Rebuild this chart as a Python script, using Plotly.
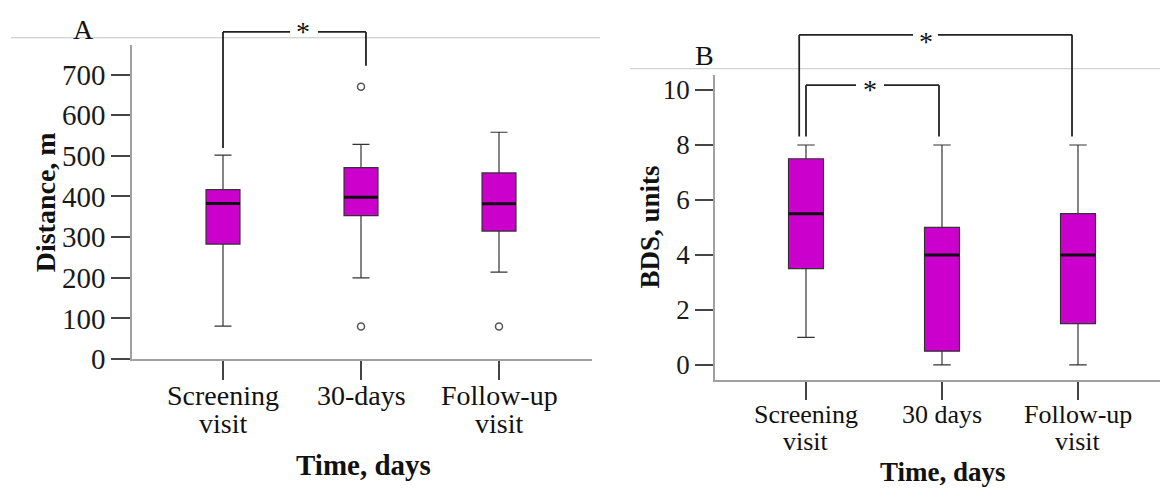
import plotly.graph_objects as go

# ---------------- data ----------------
cats_a = ["Screening<br>visit", "30-days", "Follow-up<br>visit"]
a_q1 = [283, 353, 315]
a_med = [383, 398, 382]
a_q3 = [417, 471, 458]
a_low = [81, 200, 214]
a_high = [502, 528, 558]
a_out_x = [1, 1, 2]
a_out_y = [670, 80, 80]
a_ticks = [0, 100, 200, 300, 400, 500, 600, 700]

cats_b = ["Screening<br>visit", "30 days", "Follow-up<br>visit"]
b_q1 = [3.5, 0.5, 1.5]
b_med = [5.5, 4.0, 4.0]
b_q3 = [7.5, 5.0, 5.5]
b_low = [1.0, 0.0, 0.0]
b_high = [8.0, 8.0, 8.0]
b_ticks = [0, 2, 4, 6, 8, 10]

FONT = "Liberation Serif"
FILL = "#CC00CC"
EDGE = "#333333"
W, H = 1160, 499


def py(y):
    return 1 - y / H


fig = go.Figure()

BW_A = 0.246
BW_B = 0.257

for i in range(3):
    fig.add_trace(go.Box(
        x=[i], q1=[a_q1[i]], median=[a_med[i]], q3=[a_q3[i]],
        lowerfence=[a_low[i]], upperfence=[a_high[i]],
        width=BW_A, whiskerwidth=0.5, fillcolor=FILL,
        line=dict(color=EDGE, width=1.2), boxpoints=False,
        xaxis="x", yaxis="y", showlegend=False, hoverinfo="skip"))
    fig.add_trace(go.Scatter(
        x=[i - BW_A / 2, i + BW_A / 2], y=[a_med[i], a_med[i]], mode="lines",
        line=dict(color="#111111", width=3), xaxis="x", yaxis="y",
        showlegend=False, hoverinfo="skip"))
    fig.add_trace(go.Box(
        x=[i], q1=[b_q1[i]], median=[b_med[i]], q3=[b_q3[i]],
        lowerfence=[b_low[i]], upperfence=[b_high[i]],
        width=BW_B, whiskerwidth=0.5, fillcolor=FILL,
        line=dict(color=EDGE, width=1.2), boxpoints=False,
        xaxis="x2", yaxis="y2", showlegend=False, hoverinfo="skip"))
    fig.add_trace(go.Scatter(
        x=[i - BW_B / 2, i + BW_B / 2], y=[b_med[i], b_med[i]], mode="lines",
        line=dict(color="#111111", width=3), xaxis="x2", yaxis="y2",
        showlegend=False, hoverinfo="skip"))

fig.add_trace(go.Scatter(
    x=a_out_x, y=a_out_y, mode="markers",
    marker=dict(symbol="circle-open", size=7, color="#555555", line=dict(width=1.5)),
    xaxis="x", yaxis="y", showlegend=False, hoverinfo="skip"))

axis_common = dict(showgrid=False, zeroline=False, showline=True,
                   linecolor="#a0a0a0", linewidth=1.5, ticks="outside",
                   tickcolor="#444444", tickwidth=1.5)

fig.update_layout(
    width=W, height=H, margin=dict(l=0, r=0, t=0, b=0),
    paper_bgcolor="white", plot_bgcolor="white",
    xaxis=dict(domain=[132 / W, 592 / W], range=[-0.6594, 2.6739],
               tickvals=[0, 1, 2], showticklabels=False, ticklen=19,
               anchor="y", **axis_common),
    yaxis=dict(domain=[py(371), py(46)], range=[0, 773.8],
               tickvals=a_ticks, ticklen=19, anchor="x",
               tickfont=dict(family=FONT, size=29, color="#1a1a1a"),
               **axis_common),
    xaxis2=dict(domain=[715 / W, 1.0], range=[-0.669, 2.603],
                tickvals=[0, 1, 2], showticklabels=False, ticklen=18,
                anchor="y2", **axis_common),
    yaxis2=dict(domain=[py(393), py(78)], range=[-0.563, 10.528],
                tickvals=b_ticks, ticklen=18, anchor="x2",
                tickfont=dict(family=FONT, size=27, color="#1a1a1a"),
                **axis_common),
)

shapes = []
# thin gray header lines
shapes.append(dict(type="line", xref="paper", yref="paper", x0=11 / W, x1=600 / W,
                   y0=py(39), y1=py(39), line=dict(color="#c4c4c4", width=1.2)))
shapes.append(dict(type="line", xref="paper", yref="paper", x0=630 / W, x1=1.0,
                   y0=py(71), y1=py(71), line=dict(color="#d4d4d4", width=1.2)))


def bracket(xref, xl, xr, gl, gr, ytop, ybl, ybr):
    out = []
    ln = dict(color="#222222", width=1.8)
    out.append(dict(type="line", xref=xref, yref="paper", x0=xl, x1=xl,
                    y0=py(ybl), y1=py(ytop), line=ln))
    out.append(dict(type="line", xref=xref, yref="paper", x0=xl, x1=gl,
                    y0=py(ytop), y1=py(ytop), line=ln))
    out.append(dict(type="line", xref=xref, yref="paper", x0=gr, x1=xr,
                    y0=py(ytop), y1=py(ytop), line=ln))
    out.append(dict(type="line", xref=xref, yref="paper", x0=xr, x1=xr,
                    y0=py(ytop), y1=py(ybr), line=ln))
    return out


shapes += bracket("x", 0.0, 1.036, 0.486, 0.688, 33, 153, 68)
shapes += bracket("x2", -0.05, 1.956, 0.787, 0.97, 36, 141, 141)
shapes += bracket("x2", 0.0, 0.978, 0.368, 0.574, 88, 141, 141)
fig.update_layout(shapes=shapes)

ann = []


def txt(text, x, y, xref, size, bold=False, angle=0):
    ann.append(dict(text=("<b>%s</b>" % text) if bold else text, x=x, y=py(y),
                    xref=xref, yref="paper", showarrow=False, textangle=angle,
                    xanchor="center", yanchor="middle",
                    font=dict(family=FONT, size=size, color="#111111")))


# stars
txt("*", 0.58, 33, "x", 28)
txt("*", 0.88, 43, "x2", 28)
txt("*", 0.47, 92, "x2", 28)

# panel labels
txt("A", 83 / W, 30, "paper", 28)
txt("B", 704 / W, 57, "paper", 28)

# category labels (two lines, tight spacing)
for i, c in enumerate(cats_a):
    parts = c.split("<br>")
    txt(parts[0], i, 409, "x", 28)
    if len(parts) > 1:
        txt(parts[1], i, 438, "x", 28)
for i, c in enumerate(cats_b):
    parts = c.split("<br>")
    txt(parts[0], i, 428, "x2", 26)
    if len(parts) > 1:
        txt(parts[1], i, 456, "x2", 26)

# axis titles
txt("Time, days", 363 / W, 480, "paper", 29, bold=True)
txt("Time, days", 943 / W, 488, "paper", 27, bold=True)
txt("Distance, m", 45 / W, 209, "paper", 28, bold=True, angle=-90)
txt("BDS, units", 650 / W, 235, "paper", 27, bold=True, angle=-90)

fig.update_layout(annotations=ann)

fig.write_html("out.html",
               config={"displayModeBar": False},
               post_script="document.body.style.margin='0';"
                           "document.body.style.overflow='hidden';")
